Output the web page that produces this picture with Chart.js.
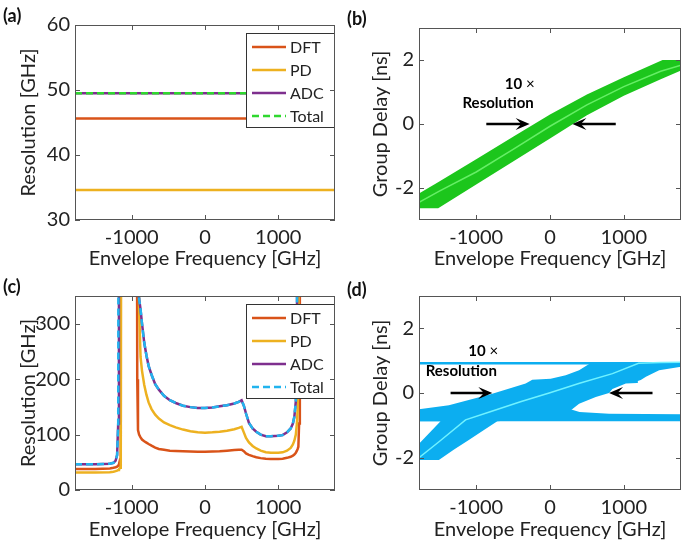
<!DOCTYPE html>
<html>
<head>
<meta charset="utf-8">
<script src="https://cdn.jsdelivr.net/npm/chart.js@4.4.1/dist/chart.umd.min.js"></script>
<style>
  html, body { margin: 0; padding: 0; background: #fff; }
  #fig { position: relative; width: 685px; height: 542px; overflow: hidden; }
  canvas { position: absolute; }
  .tag { position: absolute; font: bold 18px Lato, "DejaVu Sans", sans-serif; color: #111; line-height: 20px; }
</style>
</head>
<body>
<div id="fig">
  <canvas id="ca" width="342" height="271" style="left:0;top:0"></canvas>
  <canvas id="cb" width="343" height="271" style="left:342px;top:0"></canvas>
  <canvas id="cc" width="342" height="271" style="left:0;top:271px"></canvas>
  <canvas id="cd" width="343" height="271" style="left:342px;top:271px"></canvas>
  <div class="tag" style="left:3px;top:5px">(a)</div>
  <div class="tag" style="left:347px;top:8px">(b)</div>
  <div class="tag" style="left:3px;top:276px">(c)</div>
  <div class="tag" style="left:347px;top:279px">(d)</div>
</div>
<script>
// shared frequency axis
const xTicks = [-1000, 0, 1000];
const xRange = [-1775, 1775];

// (a) resolution, flat
const aFreq = [-1775, 1775];
const aDFT = [45.6, 45.6];
const aPD = [34.6, 34.6];
const aADC = [49.5, 49.5];
const aTotal = [49.5, 49.5];
const aTicks = [30, 40, 50, 60];

// (b) group delay band (upper / lower edge) and centre line
const bUpperFreq = [-1775, -1500, -1000, -500, 0, 500, 1000, 1525, 1775];
const bUpper = [-2.17, -1.80, -1.10, -0.40, 0.30, 0.92, 1.46, 2.0, 2.0];
const bLowerFreq = [-1775, -1515, -1000, -500, 0, 500, 1000, 1500, 1775];
const bLower = [-2.63, -2.63, -1.89, -1.17, -0.45, 0.27, 0.88, 1.40, 1.67];
const bCenterFreq = [-1775, -1500, -1000, -500, 0, 500, 1000, 1500, 1775];
const bCenter = [-2.45, -2.1, -1.5, -0.79, -0.07, 0.6, 1.17, 1.65, 1.84];
const delayTicks = [-2, 0, 2];

// (c) resolution vs frequency (values above 350 run off the top)
const cFreq = [-1775, -1500, -1300, -1250, -1220, -1200, -1185, -1175, -1160, -1150,
  -1140, -1130, -950, -935, -925, -915, -900, -880, -860, -830,
  -800, -770, -730, -680, -630, -560, -480, -400, -300, -200,
  -100, 0, 100, 200, 300, 400, 460, 500, 530, 560,
  600, 650, 700, 760, 830, 900, 1000, 1060, 1120, 1170,
  1200, 1220, 1240, 1255, 1265, 1275, 1285, 1295, 1400, 1775];
const cDFT = [38, 38, 39, 40, 41, 42, 44, 46, 55, 1000,
  1000, 1000, 1000, 1000, 200, 108, 100, 95, 91, 88,
  85.5, 83, 80, 76.5, 74, 72.5, 71, 70.5, 70, 69.5,
  69, 69, 69.5, 70, 71, 72, 72.5, 72.5, 70, 66,
  63.5, 61, 59, 57.5, 56.5, 56, 56, 56.5, 58, 60,
  62, 64, 67, 71, 74, 78, 120, 1000, 1000, 1000];
const cPD = [31.5, 31.5, 32, 33, 34, 35, 36, 37, 40, 48,
  1000, 1000, 1000, 1000, 1000, 1000, 330, 240, 215, 190,
  172, 158, 146, 136, 129, 122, 117, 113, 109, 106,
  104, 103.5, 104, 105, 107, 109.5, 112, 114, 104, 94,
  86, 79.5, 75, 71, 68, 67, 67, 68, 71, 76,
  82, 89, 100, 120, 145, 220, 1000, 1000, 1000, 1000];
const cADC = [46.5, 46.5, 47.5, 49, 53, 63, 120, 1000, 1000, 1000,
  1000, 1000, 1000, 1000, 420, 370, 345, 326, 300, 266,
  243, 224, 208, 191, 181, 170, 162, 157, 152, 149.5,
  148, 148, 149, 151, 153, 156, 159, 162, 152, 138,
  121, 111, 105, 100, 97, 97, 98, 99, 104, 111,
  120, 132, 160, 220, 1000, 1000, 1000, 1000, 1000, 1000];
const cTotal = [46.5, 46.5, 47.5, 49, 53, 63, 120, 1000, 1000, 1000,
  1000, 1000, 1000, 1000, 420, 370, 345, 326, 300, 266,
  243, 224, 208, 191, 181, 170, 162, 157, 152, 149.5,
  148, 148, 149, 151, 153, 156, 159, 162, 152, 138,
  121, 111, 105, 100, 97, 97, 98, 99, 104, 111,
  120, 132, 160, 220, 1000, 1000, 1000, 1000, 1000, 1000];
const cTicks = [0, 100, 200, 300];

// (d) group delay region, outlines of the filled areas and centre line
const dTopFreq = [-1775, 1775, 1775, -1775];
const dTop = [0.88, 0.88, 0.96, 0.96];
const dBottomFreq = [-1775, 1775, 1775, 800, 400, 300, -1775];
const dBottom = [-0.87, -0.87, -0.66, -0.64, -0.59, -0.52, -0.52];
const dBandFreq = [-1775, -1506, -1300, -1100, -900, -714, 0, 250, 300, 394,
  620, 800, 846, 1027, 1180, 1190, 1230, 1300, 1479, 1775,
  1775, 530, 394, 213, 9, -240, -330, -782, -1370, -1775,
  -1775, -1483, -1775];
const dBand = [-2.07, -2.07, -1.75, -1.45, -1.15, -0.87, -0.75, -0.62, -0.50, -0.33,
  -0.12, 0.0, 0.12, 0.29, 0.31, 0.37, 0.40, 0.50, 0.70, 0.81,
  0.90, 0.90, 0.70, 0.55, 0.44, 0.41, 0.29, -0.02, -0.38, -0.50,
  -0.87, -0.87, -1.57];
const dCenterFreq = [-1775, -1500, -1144, -800, -400, 0, 400, 846, 1200, 1500, 1775];
const dCenter = [-2.0, -1.5, -0.83, -0.57, -0.27, 0.01, 0.3, 0.6, 0.92, 0.94, 0.95];

const FONT = 'Lato, "DejaVu Sans", sans-serif';
const INK = '#222';
const BOX = '#555';
const C_DFT = '#d95319', C_PD = '#edb120', C_ADC = '#7e2f8e';
const C_TOT_A = '#2fd82f', C_TOT_C = '#22b4ee';
const GREEN = '#1cc61c', GREEN_LINE = '#66ee66';
const BLUE = '#0caef0', CYAN = '#70f2ff';

const pts = (xs, ys) => xs.map((x, i) => ({ x, y: ys[i] }));

function arrow(ctx, x0, y0, x1, y1) {
  const a = Math.atan2(y1 - y0, x1 - x0), L = 12, W = 6;
  const c = Math.cos(a), s = Math.sin(a);
  const bx = x1 - L * c, by = y1 - L * s;
  ctx.beginPath(); ctx.moveTo(x0, y0); ctx.lineTo(x1 - 6 * c, y1 - 6 * s); ctx.stroke();
  ctx.beginPath();
  ctx.moveTo(x1, y1);
  ctx.lineTo(bx - 2 * c + W * s, by - 2 * s - W * c);
  ctx.lineTo(x1 - 0.7 * L * c, y1 - 0.7 * L * s);
  ctx.lineTo(bx - 2 * c - W * s, by - 2 * s + W * c);
  ctx.closePath(); ctx.fill();
}

const framePlugin = {
  id: 'frame',
  afterDatasetsDraw(chart, args, opts) {
    const { ctx, chartArea: a, scales: { x, y } } = chart;
    ctx.save();

    // arrows and notes
    ctx.strokeStyle = '#000'; ctx.fillStyle = '#000'; ctx.lineWidth = 2.5;
    (opts.arrows || []).forEach(r => {
      arrow(ctx, x.getPixelForValue(r.from), y.getPixelForValue(r.y),
        x.getPixelForValue(r.to), y.getPixelForValue(r.y));
    });
    ctx.textBaseline = 'middle';
    (opts.notes || []).forEach(n => {
      const px = x.getPixelForValue(n.x), py = y.getPixelForValue(n.y);
      ctx.font = 'bold 15px ' + FONT;
      const w1 = ctx.measureText(n.text).width;
      ctx.font = '15px ' + FONT;
      const w2 = n.tail ? ctx.measureText(n.tail).width : 0;
      let sx = px - (w1 + w2) / 2;
      ctx.textAlign = 'left';
      ctx.font = 'bold 15px ' + FONT;
      ctx.fillText(n.text, sx, py);
      if (n.tail) { ctx.font = '15px ' + FONT; ctx.fillText(n.tail, sx + w1, py); }
    });

    // legend box
    if (opts.legend) {
      const bw = 88, bh = 94, bx = a.right - bw - 1, by = a.top + 8;
      ctx.fillStyle = '#fff'; ctx.fillRect(bx, by, bw, bh);
      ctx.strokeStyle = '#333'; ctx.lineWidth = 1;
      ctx.strokeRect(bx + 0.5, by + 0.5, bw, bh);
      ctx.font = '16px ' + FONT; ctx.fillStyle = INK; ctx.textAlign = 'left';
      chart.data.datasets.forEach((ds, i) => {
        const ry = by + 14 + i * 23;
        ctx.strokeStyle = ds.borderColor; ctx.lineWidth = ds.borderWidth;
        ctx.setLineDash(ds.borderDash || []);
        ctx.beginPath(); ctx.moveTo(bx + 6, ry); ctx.lineTo(bx + 40, ry); ctx.stroke();
        ctx.setLineDash([]);
        ctx.fillText(ds.label, bx + 44, ry + 1);
      });
    }

    // box with inward ticks
    ctx.strokeStyle = BOX; ctx.lineWidth = 1; ctx.setLineDash([]);
    ctx.strokeRect(a.left + 0.5, a.top + 0.5, a.width - 1, a.height - 1);
    ctx.beginPath();
    x.ticks.forEach(t => {
      const px = Math.round(x.getPixelForValue(t.value)) + 0.5;
      ctx.moveTo(px, a.bottom); ctx.lineTo(px, a.bottom - 5);
      ctx.moveTo(px, a.top); ctx.lineTo(px, a.top + 5);
    });
    y.ticks.forEach(t => {
      const py = Math.round(y.getPixelForValue(t.value)) + 0.5;
      ctx.moveTo(a.left, py); ctx.lineTo(a.left + 5, py);
      ctx.moveTo(a.right, py); ctx.lineTo(a.right - 5, py);
    });
    ctx.stroke();
    ctx.restore();
  }
};

function makeChart(id, cfg) {
  return new Chart(document.getElementById(id), {
    type: 'line',
    data: { datasets: cfg.datasets },
    options: {
      responsive: false,
      animation: false,
      devicePixelRatio: 1,
      layout: { padding: { top: cfg.top, right: cfg.right, left: 0, bottom: 0 } },
      elements: { point: { radius: 0 }, line: { tension: 0 } },
      plugins: {
        legend: { display: false },
        tooltip: { enabled: false },
        frame: { legend: !!cfg.legend, arrows: cfg.arrows || [], notes: cfg.notes || [] }
      },
      scales: {
        x: {
          type: 'linear', min: xRange[0], max: xRange[1],
          afterBuildTicks: s => { s.ticks = xTicks.map(v => ({ value: v })); },
          afterFit: s => { s.height = cfg.xh; },
          grid: { display: false, drawTicks: false },
          border: { display: false },
          ticks: { color: INK, padding: 6, maxRotation: 0, font: { family: FONT, size: 20 }, callback: v => String(v) },
          title: { display: true, text: 'Envelope Frequency [GHz]', color: INK, font: { family: FONT, size: 20 }, padding: { top: 0, bottom: 0 } }
        },
        y: {
          type: 'linear', min: cfg.yMin, max: cfg.yMax,
          afterBuildTicks: s => { s.ticks = cfg.yTicks.map(v => ({ value: v })); },
          afterFit: s => { s.width = cfg.yw; },
          grid: { display: false, drawTicks: false },
          border: { display: false },
          ticks: { color: INK, padding: 5, font: { family: FONT, size: 20 }, callback: v => String(v) },
          title: { display: true, text: cfg.yTitle, color: INK, font: { family: FONT, size: 20 }, padding: { top: cfg.yTitlePad, bottom: 0 } }
        }
      }
    },
    plugins: [framePlugin]
  });
}

const lineDs = (label, xs, ys, color, dash, order) => ({
  label, data: pts(xs, ys), borderColor: color, backgroundColor: color,
  borderWidth: 2.5, borderDash: dash, fill: false, order
});
const areaDs = (xs, ys, color) => ({
  data: pts(xs, ys), borderColor: 'rgba(0,0,0,0)', backgroundColor: color,
  borderWidth: 1, fill: 'shape', order: 5
});

// band outline for (b): upper edge left to right, then lower edge back
const bOutline = pts(bUpperFreq, bUpper).concat(pts(bLowerFreq, bLower).reverse());

makeChart('ca', {
  top: 25, right: 7, xh: 51, yw: 75, yTitlePad: 17,
  yMin: 30, yMax: 60, yTicks: aTicks, yTitle: 'Resolution [GHz]', legend: true,
  datasets: [
    lineDs('DFT', aFreq, aDFT, C_DFT, [], 3),
    lineDs('PD', aFreq, aPD, C_PD, [], 2),
    lineDs('ADC', aFreq, aADC, C_ADC, [], 1),
    lineDs('Total', aFreq, aTotal, C_TOT_A, [7, 4], 0)
  ]
});

makeChart('cb', {
  top: 28, right: 4, xh: 51, yw: 77, yTitlePad: 27,
  yMin: -3, yMax: 3, yTicks: delayTicks, yTitle: 'Group Delay [ns]',
  datasets: [
    { data: bOutline, borderColor: 'rgba(0,0,0,0)', backgroundColor: GREEN, borderWidth: 1, fill: 'shape', order: 5 },
    { data: pts(bCenterFreq, bCenter), borderColor: GREEN_LINE, borderWidth: 1.5, fill: false, order: 0 }
  ],
  arrows: [{ from: -863, to: -276, y: 0 }, { from: 891, to: 304, y: 0 }],
  notes: [{ x: -411, y: 1.26, text: '10', tail: ' \u00d7' }, { x: -703, y: 0.64, text: 'Resolution' }]
});

makeChart('cc', {
  top: 25, right: 7, xh: 52, yw: 75, yTitlePad: 17,
  yMin: 0, yMax: 350, yTicks: cTicks, yTitle: 'Resolution [GHz]', legend: true,
  datasets: [
    lineDs('DFT', cFreq, cDFT, C_DFT, [], 3),
    lineDs('PD', cFreq, cPD, C_PD, [], 2),
    lineDs('ADC', cFreq, cADC, C_ADC, [], 1),
    lineDs('Total', cFreq, cTotal, C_TOT_C, [7, 4], 0)
  ]
});

makeChart('cd', {
  top: 25, right: 4, xh: 52, yw: 77, yTitlePad: 27,
  yMin: -3, yMax: 3, yTicks: delayTicks, yTitle: 'Group Delay [ns]',
  datasets: [
    areaDs(dTopFreq, dTop, BLUE),
    areaDs(dBottomFreq, dBottom, BLUE),
    areaDs(dBandFreq, dBand, BLUE),
    { data: pts(dCenterFreq, dCenter), borderColor: CYAN, borderWidth: 1.5, fill: false, order: 0 }
  ],
  arrows: [{ from: -1347, to: -782, y: 0 }, { from: 1389, to: 800, y: 0 }],
  notes: [{ x: -904, y: 1.28, text: '10', tail: ' \u00d7' }, { x: -1202, y: 0.67, text: 'Resolution' }]
});
</script>
</body>
</html>
